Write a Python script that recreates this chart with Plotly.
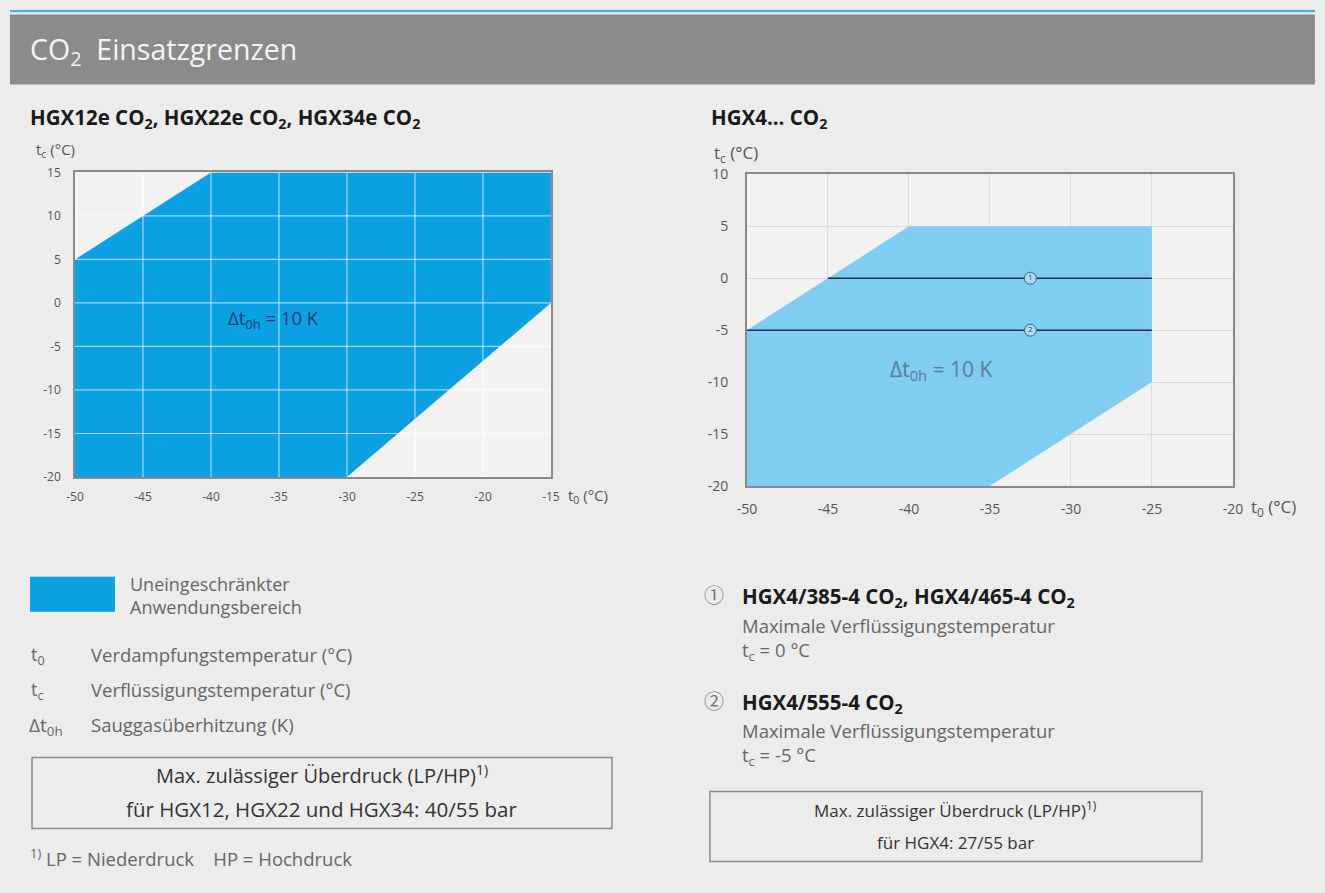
import plotly.graph_objects as go

W, H = 1325, 893

# ---------------- data ----------------
x_ticks_left = [-50, -45, -40, -35, -30, -25, -20, -15]
y_ticks_left = [-20, -15, -10, -5, 0, 5, 10, 15]
x_ticks_right = [-50, -45, -40, -35, -30, -25, -20]
y_ticks_right = [-20, -15, -10, -5, 0, 5, 10]

left_env_t0 = [-50, -40, -15, -15, -30, -50, -50]
left_env_tc = [5, 15, 15, 0, -20, -20, 5]

right_env_t0 = [-50, -40, -25, -25, -35, -50, -50]
right_env_tc = [-5, 5, 5, -10, -20, -20, -5]

limit1_t0 = [-45, -25]
limit1_tc = [0, 0]
limit2_t0 = [-50, -25]
limit2_tc = [-5, -5]
marker_t0 = [-32.5, -32.5]
marker_tc = [0, -5]
marker_labels = ["1", "2"]

# ---------------- helpers ----------------
# map target picture pixels to paper coordinates (compensates the capture border)
OX, SX, OY, SY = 10.0, 0.985, 9.4, 0.98


def px(x):
    return max(0.0, min(1.0, (x - OX) / SX / W))


def py(y):
    return max(0.0, min(1.0, 1 - (y - OY) / SY / H))


def lab(v):
    return str(v)


FONT = "Open Sans, Noto Sans, Noto Sans CJK JP, sans-serif"
BLUE = "#0ba1e2"
LBLUE = "#80cdf2"

fig = go.Figure()

fig.add_trace(go.Scatter(x=left_env_t0, y=left_env_tc, fill="toself", fillcolor=BLUE,
                         line=dict(width=0, color=BLUE), mode="lines", hoverinfo="skip",
                         xaxis="x", yaxis="y", showlegend=False))
gx, gy = [], []
for t in x_ticks_left[1:-1]:
    gx += [t, t, None]
    gy += [y_ticks_left[0], y_ticks_left[-1], None]
for t in y_ticks_left[1:-1]:
    gx += [x_ticks_left[0], x_ticks_left[-1], None]
    gy += [t, t, None]
fig.add_trace(go.Scatter(x=gx, y=gy, mode="lines", line=dict(color="rgba(255,255,255,0.6)", width=1.2),
                         hoverinfo="skip", xaxis="x", yaxis="y", showlegend=False))

fig.add_trace(go.Scatter(x=right_env_t0, y=right_env_tc, fill="toself", fillcolor=LBLUE,
                         line=dict(width=0, color=LBLUE), mode="lines", hoverinfo="skip",
                         xaxis="x2", yaxis="y2", showlegend=False))
fig.add_trace(go.Scatter(x=limit1_t0, y=limit1_tc, mode="lines", line=dict(color="#26324a", width=1.6),
                         xaxis="x2", yaxis="y2", showlegend=False))
fig.add_trace(go.Scatter(x=limit2_t0, y=limit2_tc, mode="lines", line=dict(color="#26324a", width=1.6),
                         xaxis="x2", yaxis="y2", showlegend=False))
fig.add_trace(go.Scatter(x=marker_t0, y=marker_tc, mode="markers+text", text=marker_labels,
                         textposition="middle center", textfont=dict(size=8, color="#3a4a60", family=FONT),
                         marker=dict(symbol="circle", size=12, color="#a8dcf5",
                                     line=dict(color="#4a5a70", width=1)),
                         xaxis="x2", yaxis="y2", showlegend=False))


def axis(domain, rng, ticks, size, ticklen, grid):
    return dict(domain=domain, range=rng, tickvals=ticks, ticktext=[lab(t) for t in ticks],
                showline=True, mirror=True, linecolor="#8a8a8a", linewidth=1.5,
                zeroline=False, ticks="outside", ticklen=ticklen, tickcolor="rgba(0,0,0,0)",
                tickfont=dict(family=FONT, size=size, color="#555"),
                showgrid=grid, gridcolor="#dcdcdc")


fig.update_layout(
    width=W, height=H,
    margin=dict(l=0, r=0, t=0, b=0),
    paper_bgcolor="#ececec",
    plot_bgcolor="#f2f2f2",
    font=dict(family=FONT),
    xaxis={**axis([px(75), px(551)], [-50, -15], x_ticks_left, 12, 8, False), "anchor": "y"},
    yaxis={**axis([py(477), py(172)], [-20, 15], y_ticks_left, 12, 10, False), "anchor": "x"},
    xaxis2={**axis([px(747), px(1233)], [-50, -20], x_ticks_right, 14, 9, True), "anchor": "y2"},
    yaxis2={**axis([py(486), py(174)], [-20, 10], y_ticks_right, 14, 14, True), "anchor": "x2"},
)

shapes = []
shapes.append(dict(type="rect", xref="paper", yref="paper", x0=0, x1=1, y0=1 - 2.2 / H, y1=1,
                   fillcolor="#45b4dc", line=dict(width=0)))
shapes.append(dict(type="rect", xref="paper", yref="paper", x0=0, x1=1, y0=py(84), y1=1 - 4.5 / H,
                   fillcolor="#8b8b8b", line=dict(width=0)))
shapes.append(dict(type="rect", xref="paper", yref="paper", x0=px(30), x1=px(115), y0=py(612), y1=py(577),
                   fillcolor=BLUE, line=dict(width=0)))
shapes.append(dict(type="rect", xref="paper", yref="paper", x0=px(32), x1=px(612), y0=py(829), y1=py(758),
                   fillcolor="rgba(0,0,0,0)", line=dict(color="#8a8a8a", width=1.5)))
shapes.append(dict(type="rect", xref="paper", yref="paper", x0=px(710), x1=px(1202), y0=py(862), y1=py(792),
                   fillcolor="rgba(0,0,0,0)", line=dict(color="#8a8a8a", width=1.5)))
fig.update_layout(shapes=shapes)

ann = []


def txt(x, y, s, size=14, color="#666", xanchor="left", bold=False, ref=("paper", "paper"), pixel=True):
    if bold:
        s = "<b>" + s + "</b>"
    ann.append(dict(x=px(x) if pixel else x, y=py(y) if pixel else y, xref=ref[0], yref=ref[1], text=s,
                    showarrow=False, xanchor=xanchor, yanchor="middle", align="left",
                    font=dict(family=FONT, size=size, color=color)))


txt(28, 50, "CO<sub>2</sub>  Einsatzgrenzen", size=28.5, color="#f4f4f4")
txt(28, 118, "HGX12e CO<sub>2</sub>, HGX22e CO<sub>2</sub>, HGX34e CO<sub>2</sub>", size=20.5, color="#1a1a1a", bold=True)
txt(709, 118, "HGX4... CO<sub>2</sub>", size=20.5, color="#1a1a1a", bold=True)

# axis titles
txt(34, 150, "t<sub>c</sub> (°C)", size=15, color="#555")
txt(566, 496, "t<sub>0</sub> (°C)", size=15, color="#555")
txt(712, 153, "t<sub>c</sub> (°C)", size=17, color="#555")
txt(1249, 508, "t<sub>0</sub> (°C)", size=17, color="#555")

# in-chart labels
txt(-35.4, -1.8, "Δt<sub>0h</sub> = 10 K", size=18.5, color="#1d3c78", xanchor="center", ref=("x", "y"), pixel=False)
txt(-38.0, -8.8, "Δt<sub>0h</sub> = 10 K", size=21, color="#5d7a96", xanchor="center", ref=("x2", "y2"), pixel=False)

# legend (left)
txt(128, 596, "Uneingeschränkter<br>Anwendungsbereich", size=18, color="#666")
txt(29, 656, "t<sub>0</sub>", size=18, color="#666")
txt(89, 655, "Verdampfungstemperatur (°C)", size=18.5, color="#666")
txt(29, 691, "t<sub>c</sub>", size=18, color="#666")
txt(89, 690, "Verflüssigungstemperatur (°C)", size=18.5, color="#666")
txt(27, 726, "Δt<sub>0h</sub>", size=19, color="#666")
txt(89, 725, "Sauggasüberhitzung (K)", size=18.5, color="#666")

txt(322, 775, "Max. zulässiger Überdruck (LP/HP)<sup>1)</sup>", size=20, color="#333", xanchor="center")
txt(322, 809, "für HGX12, HGX22 und HGX34: 40/55 bar", size=20.5, color="#333", xanchor="center")
txt(28, 858, "<sup>1)</sup> LP = Niederdruck    HP = Hochdruck", size=18.5, color="#666")

# right notes
txt(702, 596, "①", size=20, color="#777")
txt(740, 597, "HGX4/385-4 CO<sub>2</sub>, HGX4/465-4 CO<sub>2</sub>", size=20.5, color="#1a1a1a", bold=True)
txt(740, 639, "Maximale Verflüssigungstemperatur<br>t<sub>c</sub> = 0 °C", size=18.5, color="#666")
txt(702, 702, "②", size=20, color="#777")
txt(740, 703, "HGX4/555-4 CO<sub>2</sub>", size=20.5, color="#1a1a1a", bold=True)
txt(740, 744, "Maximale Verflüssigungstemperatur<br>t<sub>c</sub> = -5 °C", size=18.5, color="#666")

txt(956, 810, "Max. zulässiger Überdruck (LP/HP)<sup>1)</sup>", size=17, color="#333", xanchor="center")
txt(956, 843, "für HGX4: 27/55 bar", size=17, color="#333", xanchor="center")

fig.update_layout(annotations=ann)

fig.write_html("out.html", config={"displayModeBar": False},
               post_script="document.body.style.margin='0px';")
